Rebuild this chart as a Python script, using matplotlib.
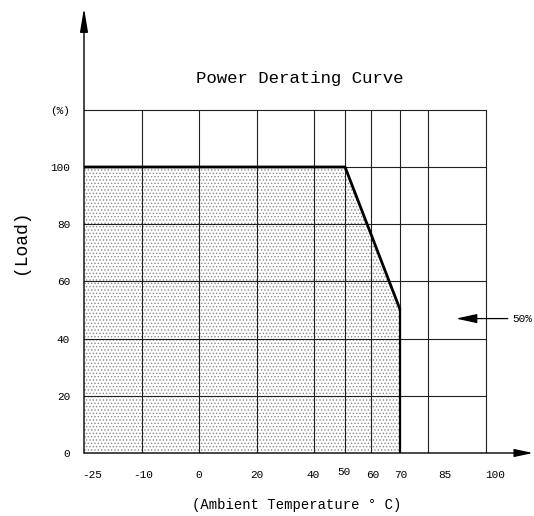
import numpy as np
import matplotlib
matplotlib.use("Agg")
import matplotlib.pyplot as plt

# ---- data ----
grid_temps = [-25, -10, 0, 20, 40, 50, 60, 70, 85, 100]   # temperature columns
tick_labels = ["-25", "-10", "0", "20", "40", "50", "60", "70", "85", "100"]
load_ticks = [0, 20, 40, 60, 80, 100]
curve_temp = [-25, 50, 70, 70]
curve_load = [100, 100, 50, 0]
marker_load = 47   # "50%" arrow level
marker_text = "50%"

# ---- layout (non-linear horizontal scale) ----
grid_pos = [0, 1, 2, 3, 4, 4.54, 4.99, 5.5, 5.98, 6.99]
label_pos = [0.14, 1.02, 2.0, 3.0, 3.99, 4.52, 5.02, 5.5, 6.28, 7.15]

def tx(t):
    return np.interp(t, grid_temps, grid_pos)

FONT = "Liberation Mono"
plt.rcParams['font.family'] = [FONT, 'DejaVu Sans']
plt.rcParams['hatch.color'] = '#8a8a8a'
plt.rcParams['hatch.linewidth'] = 0.6

fig = plt.figure(figsize=(5.34, 5.16), dpi=100)
ax = fig.add_axes([84/534, 1 - 453/516, 449/534, 445/516])
ax.set_xlim(0, 449/57.5)
ax.set_ylim(0, 445/2.86)
for s in ax.spines.values():
    s.set_visible(False)

xmax_grid = tx(100)
top_grid = 120

# filled derating region
px = tx(np.array(curve_temp))
poly_x = list(px) + [px[0]]
poly_y = list(curve_load) + [0]
ax.fill(poly_x, poly_y, facecolor='white', edgecolor='#8a8a8a', hatch='.....',
        linewidth=0, zorder=1)

# grid
for g in grid_pos[1:]:
    ax.plot([g, g], [0, top_grid], color='#202020', lw=0.8, zorder=2)
for yv in list(range(20, top_grid + 1, 20)):
    ax.plot([0, xmax_grid], [yv, yv], color='#202020', lw=0.8, zorder=2)

# curve
ax.plot(px[:3], curve_load[:3], color='black', lw=2.0, zorder=4, solid_capstyle='butt')
ax.plot(px[2:], curve_load[2:], color='black', lw=1.6, zorder=4, solid_capstyle='butt')

# axes with arrows
ax.annotate('', xy=(449/57.5, 0), xytext=(0, 0),
            arrowprops=dict(arrowstyle='-|>,head_length=1.4,head_width=0.3',
                            mutation_scale=8, lw=1.0, color='black',
                            shrinkA=0, shrinkB=0), zorder=5)
ax.annotate('', xy=(0, 445/2.86), xytext=(0, 0),
            arrowprops=dict(arrowstyle='-|>,head_length=1.8,head_width=0.3',
                            mutation_scale=8, lw=1.0, color='black',
                            shrinkA=0, shrinkB=0), zorder=5)

# ticks
ax.set_xticks(label_pos)
ax.set_xticklabels(tick_labels, fontsize=8)
ax.set_yticks(load_ticks + [120])
ax.set_yticklabels([str(v) for v in load_ticks] + ["(%)"], fontsize=8)
ax.tick_params(axis='both', length=0)
ax.tick_params(axis='x', pad=12)
ax.tick_params(axis='y', pad=10)
for lbl in ax.get_xticklabels():
    if lbl.get_text() == "50":
        lbl.set_y(0.005)

# 50% marker
ax.annotate('', xy=(tx(85) + 0.49, marker_load), xytext=(7.37, marker_load),
            arrowprops=dict(arrowstyle='-|>,head_length=1.6,head_width=0.35',
                            mutation_scale=8, lw=0.9, color='black',
                            shrinkA=0, shrinkB=0))
ax.text(7.45, marker_load, marker_text, fontsize=8, va='center', ha='left')

# titles
fig.text(300/534, 1 - 78/516, "Power Derating Curve", fontsize=12.5,
         ha='center', va='center')
fig.text(297/534, 1 - 505/516, "(Ambient Temperature ° C)", fontsize=10,
         ha='center', va='center')
fig.text(21/534, 1 - 242/516, "(Load)", fontsize=13, rotation=90,
         ha='center', va='center')

fig.savefig("out.png", dpi=100)
